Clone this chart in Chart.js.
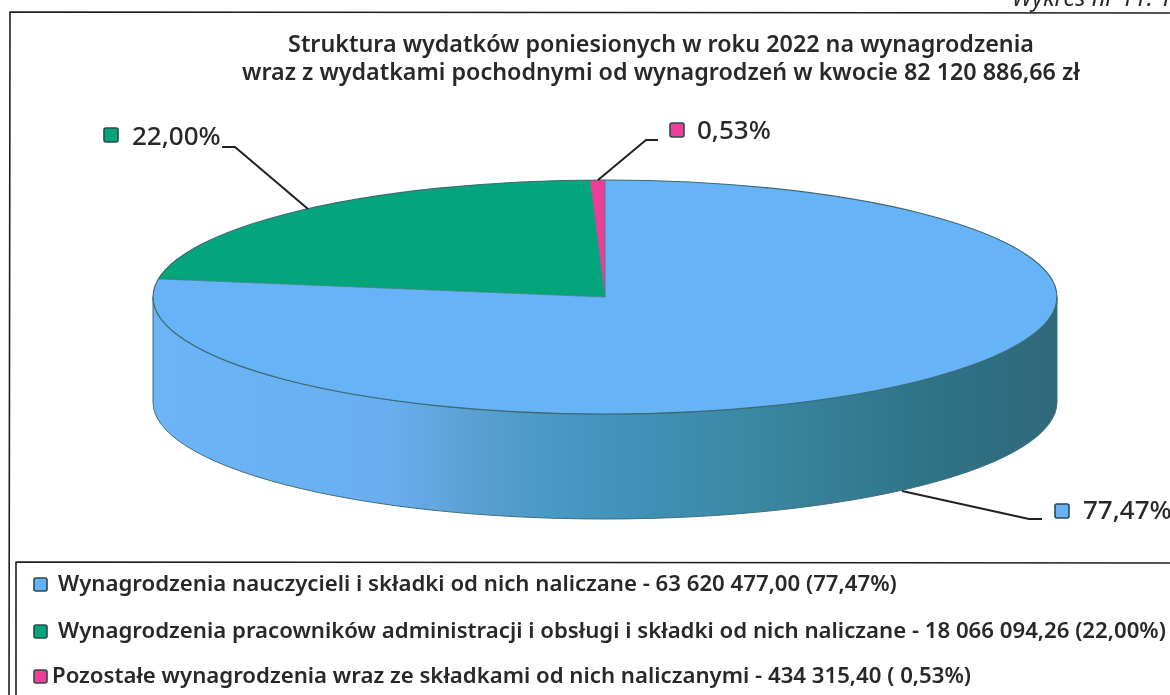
<!DOCTYPE html>
<html><head><meta charset="utf-8">
<style>html,body{margin:0;padding:0;background:#fff}#w{width:1170px;height:695px;position:relative}</style>
<script src="https://cdn.jsdelivr.net/npm/chart.js@4"></script></head>
<body><div id="w"><canvas id="c" width="1170" height="695"></canvas></div>
<script>
const categories=["Wynagrodzenia nauczycieli i składki od nich naliczane - 63 620 477,00 (77,47%)","Wynagrodzenia pracowników administracji i obsługi i składki od nich naliczane - 18 066 094,26 (22,00%)","Pozostałe wynagrodzenia wraz ze składkami od nich naliczanymi - 434 315,40 ( 0,53%)"];
const values=[63620477.00,18066094.26,434315.40];
const percentLabels=["77,47%","22,00%","0,53%"];
const colors=["#66b3f8","#04a57d","#ee3f98"];
const titleLines=["Struktura wydatków poniesionych w roku 2022 na wynagrodzenia","wraz z wydatkami pochodnymi od wynagrodzeń w kwocie 82 120 886,66 zł"];
const FONT='"Noto Sans","DejaVu Sans",sans-serif';
const G={cx:605,cy:297,rx:452,ry:117,depth:105};
const callouts=[
 {i:0,path:[[902,491],[1029,519],[1042,519]],box:[1055,504],text:[1083,512]},
 {i:1,path:[[308,209],[235,147],[222,147]],box:[104,128],text:[132,138]},
 {i:2,path:[[598,180],[646,140],[658,140]],box:[670,123],text:[697,132]}];
const legendRows=[{y:585,box:34,text:58},{y:632,box:34,text:58},{y:677,box:34,text:52}];
function marker(ctx,x,y,s,col){ctx.beginPath();ctx.roundRect(x,y,s,s,2);ctx.fillStyle=col;ctx.fill();ctx.lineWidth=1.6;ctx.strokeStyle="#2c4a4a";ctx.stroke();}
const pie3d={id:'pie3d',
 beforeDatasetsDraw(chart){
  const ctx=chart.ctx,m=chart.getDatasetMeta(0),a0=m.data[0];
  m.data.forEach((arc,i)=>{
   const s=Math.max(arc.startAngle,0),e=Math.min(arc.endAngle,Math.PI);
   if(e<=s)return;
   const g=ctx.createLinearGradient(G.cx-G.rx,0,G.cx+G.rx,0);
   g.addColorStop(0,"#6cb4f7");g.addColorStop(.26,"#69aff0");g.addColorStop(.36,"#5a9fd0");g.addColorStop(.43,"#4a9ac6");g.addColorStop(.55,"#3f90b6");g.addColorStop(.66,"#3a88a3");g.addColorStop(.85,"#2f7487");g.addColorStop(1,"#30687a");
   ctx.beginPath();
   ctx.ellipse(G.cx,G.cy,G.rx,G.ry,0,s,e);
   ctx.ellipse(G.cx,G.cy+G.depth,G.rx,G.ry,0,e,s,true);
   ctx.closePath();ctx.fillStyle=g;ctx.fill();
   ctx.lineWidth=1;ctx.strokeStyle="#3f6f78";ctx.stroke();
  });
  ctx.save();
  ctx.translate(G.cx,G.cy);ctx.scale(G.rx/a0.outerRadius,G.ry/a0.outerRadius);ctx.translate(-a0.x,-a0.y);
 },
 afterDatasetsDraw(chart){
  const ctx=chart.ctx;ctx.restore();
  const m=chart.getDatasetMeta(0);
  ctx.lineWidth=1.2;ctx.strokeStyle="#3c6a70";
  ctx.beginPath();ctx.ellipse(G.cx,G.cy,G.rx,G.ry,0,0,Math.PI*2);ctx.stroke();
  ctx.lineWidth=.8;
  m.data.forEach(arc=>{ctx.beginPath();ctx.moveTo(G.cx,G.cy);ctx.lineTo(G.cx+G.rx*Math.cos(arc.startAngle),G.cy+G.ry*Math.sin(arc.startAngle));ctx.strokeStyle="#3c7f80";ctx.stroke();});
  ctx.font='500 26px '+FONT;ctx.textBaseline='middle';ctx.textAlign='left';
  callouts.forEach(c=>{
   ctx.beginPath();c.path.forEach((p,j)=>j?ctx.lineTo(p[0],p[1]):ctx.moveTo(p[0],p[1]));
   ctx.lineWidth=2;ctx.strokeStyle="#1e2224";ctx.lineJoin='round';ctx.stroke();
   marker(ctx,c.box[0],c.box[1],14,colors[c.i]);
   ctx.fillStyle="#26282a";ctx.fillText(percentLabels[c.i],c.text[0],c.text[1]);
  });
  ctx.strokeStyle="#1c1f22";ctx.lineWidth=1.6;
  ctx.beginPath();ctx.moveTo(1170,13);ctx.lineTo(10,12);ctx.lineTo(9,695);ctx.stroke();
  ctx.beginPath();ctx.moveTo(1170,563);ctx.lineTo(16,562);ctx.lineTo(16,695);ctx.stroke();
  ctx.font='600 22.2px '+FONT;
  categories.forEach((t,i)=>{const r=legendRows[i];
   marker(ctx,r.box,r.y-7,13,colors[i]);
   ctx.fillStyle="#26282a";ctx.fillText(t,r.text,r.y);});
  ctx.font='italic 23.6px '+FONT;ctx.fillStyle="#26282a";ctx.textAlign='right';ctx.textBaseline='alphabetic';
  ctx.fillText("Wykres nr 11. 1",1172,6);
 }};
Chart.defaults.animation=false;
new Chart(document.getElementById('c'),{type:'pie',
 data:{labels:categories,datasets:[{data:values,backgroundColor:colors,borderWidth:0}]},
 options:{responsive:false,rotation:0,layout:{padding:{top:90,bottom:140}},
  plugins:{legend:{display:false},tooltip:{enabled:false},
   title:{display:true,text:titleLines,color:"#26282a",font:{family:FONT,size:23.3,weight:'600',lineHeight:1.2},padding:{top:31,bottom:0}}}},
 plugins:[pie3d,{id:'titlePos',afterLayout(c){const t=c.titleBlock;t.left=236;t.right=1086;t.top=0;t.bottom=90;}}]});
</script></body></html>
